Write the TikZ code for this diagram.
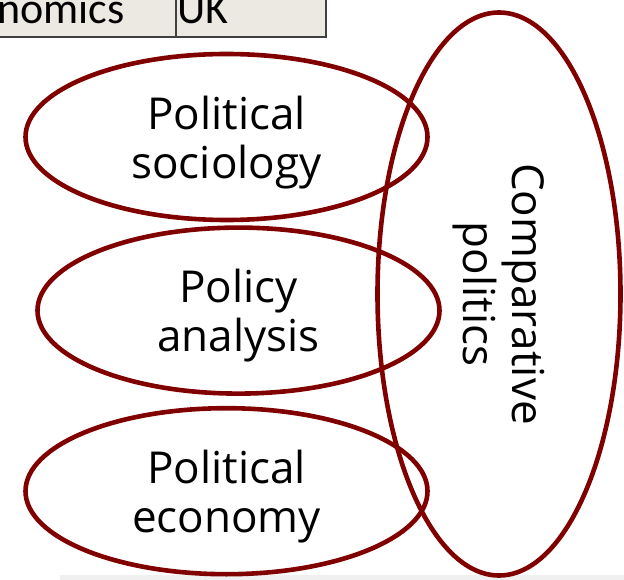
\documentclass[tikz,border=0pt]{standalone}
\usepackage{fontspec}
\setmainfont{Open Sans}
\newfontfamily\tabfont{Carlito}
\usetikzlibrary{shapes.geometric, positioning}
\definecolor{fieldred}{RGB}{128,0,0}
\definecolor{cellfill}{RGB}{236,233,226}
\tikzset{
  field/.style={
    ellipse, draw=fieldred, line width=4.6pt,
    minimum width=402pt, minimum height=166pt,
    inner sep=0pt, align=center, text depth=0pt,
    font=\fontsize{44}{49}\selectfont
  },
  cell/.style={
    rectangle, draw=black!75, fill=cellfill, line width=1.5pt,
    inner sep=0pt, anchor=south west
  },
  celltxt/.style={
    anchor=base west, inner sep=0pt,
    font=\tabfont\fontsize{44}{50}\selectfont
  }
}

\begin{document}
\begin{tikzpicture}[x=1pt, y=-1pt]
  \useasboundingbox (0,0) rectangle (624,580);
  \fill[black!6] (60,575) rectangle (624,580);

  % cut-off table row at the top
  \node[cell, minimum width=190pt, minimum height=70pt] (tabl) at (-15,38) {};
  \node[cell, minimum width=150pt, minimum height=70pt] (tabr) at (175,38) {};
  \node[celltxt] (econ) at (-3,24) {nomics};
  \node[celltxt] (uk)   at (177,24) {UK};

  % fields
  \node[field] (soc) at (226.5,137) {Political\\sociology};
  \node[field, below=3pt of soc, xshift=12pt] (pol) {Policy\\analysis};
  \node[field, below=10pt of pol, xshift=-12pt] (eco) {Political\\economy};
  \node[field, rotate=-90, text depth={}, minimum width=563pt, minimum height=243pt]
    (comp) at (499,294) {Comparative\\politics};
\end{tikzpicture}
\end{document}
